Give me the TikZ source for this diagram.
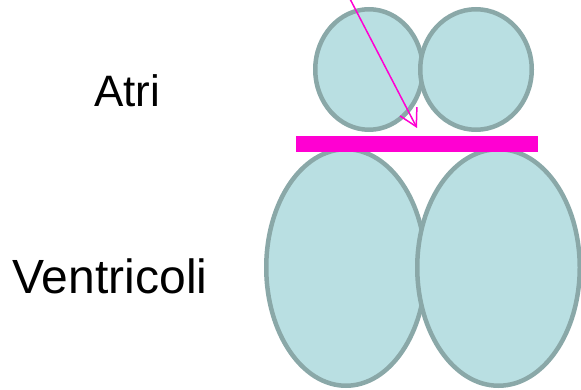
\documentclass[tikz,border=0pt]{standalone}
\usepackage{fontspec}
\setmainfont{Liberation Sans}
\usetikzlibrary{shapes.geometric,arrows.meta}
\definecolor{chamberfill}{RGB}{185,223,226}
\definecolor{chamberline}{RGB}{138,168,168}
\definecolor{valvepink}{RGB}{255,0,210}
\tikzset{
  chamber/.style={ellipse, draw=chamberline, fill=chamberfill, line width=4.5pt, inner sep=0pt},
  label/.style={anchor=base, inner sep=0pt, text=black},
}
\begin{document}
\begin{tikzpicture}[x=1pt,y=1pt]
  \useasboundingbox (0,0) rectangle (581,389);
  % ventricles
  \node[chamber, minimum width=159.5pt, minimum height=236.5pt] (lv) at (346,121.5) {};
  \node[chamber, minimum width=162.5pt, minimum height=236.5pt] (rv) at (498.5,121.5) {};
  % atrioventricular plane
  \node[fill=valvepink, minimum width=242pt, minimum height=16pt, inner sep=0pt] (plane) at (417,245) {};
  % atria
  \node[chamber, minimum width=107.5pt, minimum height=120.5pt] (la) at (369,319.5) {};
  \node[chamber, minimum width=111.5pt, minimum height=120.5pt] (ra) at (476,319.5) {};
  % labels
  \node[label, font=\fontsize{44}{50}\selectfont] (atri) at (127,282) {Atri};
  \node[label, font=\fontsize{48}{56}\selectfont] (ventricoli) at (110,96) {Ventricoli};
  % pointer
  \coordinate (start) at (349,392);
  \coordinate (tip) at (417,261);
  \draw[valvepink, line width=1.5pt, -{Straight Barb[length=17pt, width=19pt]}] (start) -- (tip);
\end{tikzpicture}
\end{document}
